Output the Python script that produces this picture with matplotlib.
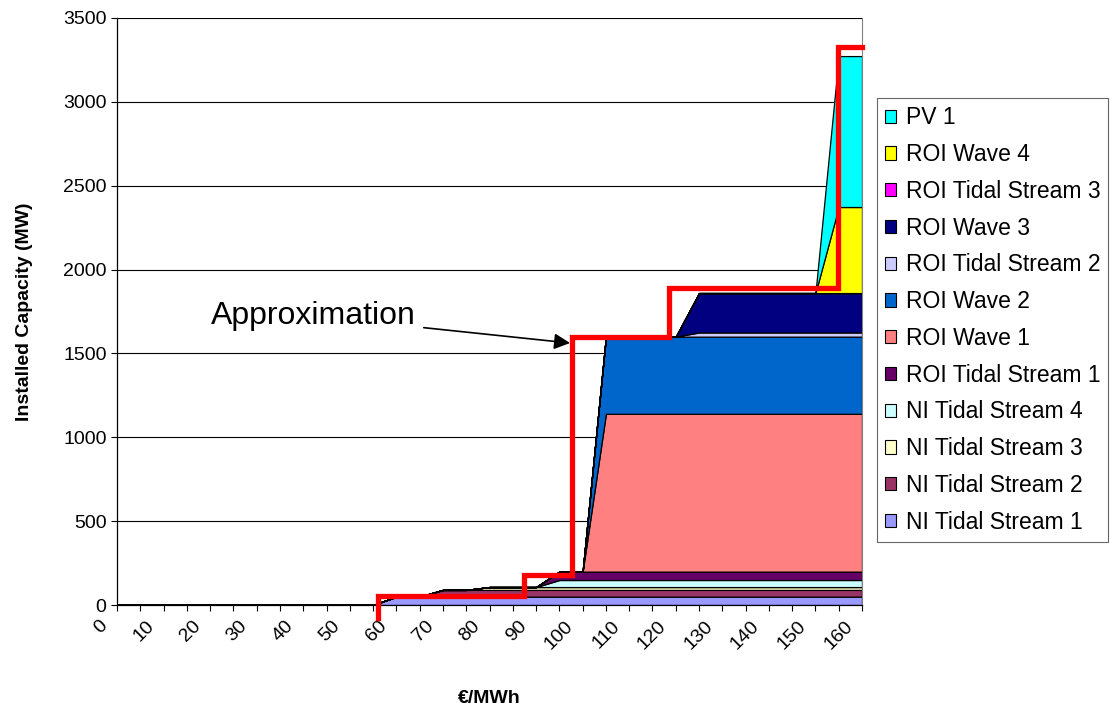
import matplotlib
matplotlib.use("Agg")
import matplotlib.pyplot as plt
import matplotlib.transforms as mtransforms
from matplotlib.patches import Rectangle
import numpy as np

plt.rcParams['font.family'] = ['Liberation Sans', 'DejaVu Sans']

# price categories, EUR/MWh
price = [0, 5, 10, 15, 20, 25, 30, 35, 40, 45, 50, 55, 60, 65, 70, 75, 80,
         85, 90, 95, 100, 105, 110, 115, 120, 125, 130, 135, 140, 145, 150, 155, 160]

# installed capacity (MW) available at each price
ni_tidal_1  = [0]*12 + [50]*21
ni_tidal_2  = [0]*14 + [40]*19
ni_tidal_3  = [0]*16 + [17]*17
ni_tidal_4  = [0]*19 + [42]*14
roi_tidal_1 = [0]*19 + [50]*14
roi_wave_1  = [0]*21 + [941]*12
roi_wave_2  = [0]*21 + [460]*12
roi_tidal_2 = [0]*25 + [25]*8
roi_wave_3  = [0]*25 + [235]*8
roi_tidal_3 = [0]*33
roi_wave_4  = [0]*31 + [513]*2
pv_1        = [0]*31 + [900]*2

names = ["NI Tidal Stream 1", "NI Tidal Stream 2", "NI Tidal Stream 3",
         "NI Tidal Stream 4", "ROI Tidal Stream 1", "ROI Wave 1", "ROI Wave 2",
         "ROI Tidal Stream 2", "ROI Wave 3", "ROI Tidal Stream 3",
         "ROI Wave 4", "PV 1"]
colors = ["#9999FF", "#993366", "#FFFFCC", "#CCFFFF", "#660066", "#FF8080",
          "#0066CC", "#CCCCFF", "#000080", "#FF00FF", "#FFFF00", "#00FFFF"]
series = [ni_tidal_1, ni_tidal_2, ni_tidal_3, ni_tidal_4, roi_tidal_1,
          roi_wave_1, roi_wave_2, roi_tidal_2, roi_wave_3, roi_tidal_3,
          roi_wave_4, pv_1]

# step approximation of the supply curve
approx_x = [56, 56, 87.5, 87.5, 97.8, 97.8, 118.5, 118.5, 154.8, 154.8, 160]
approx_y = [-75, 55, 55, 180, 180, 1600, 1600, 1890, 1890, 3330, 3330]

fig = plt.figure(figsize=(11.1, 7.13), dpi=100)
ax = fig.add_axes([117/1110, 1 - 605/713, 745/1110, 587/713])

ax.stackplot(price, *series, colors=colors, edgecolor="black",
             linewidth=0.9, zorder=2)
ax.plot(approx_x, approx_y, color="#FF0000", lw=3.8, zorder=5,
        clip_on=False, solid_joinstyle="miter")

ax.set_xlim(0, 160)
ax.set_ylim(0, 3500)
ax.set_yticks(np.arange(0, 3501, 500))
ax.set_xticks(np.arange(0, 161, 10))
ax.set_xticks(np.arange(5, 160, 10), minor=True)
ax.yaxis.grid(True, color="black", lw=0.8, zorder=0)
ax.set_axisbelow(True)

ax.tick_params(axis="both", which="both", direction="out", length=4,
               width=0.8, labelsize=14, colors="black")
ax.tick_params(axis="x", pad=5)
# rotated price labels, nudged a little left of their ticks
shift = mtransforms.ScaledTranslation(-6/100, 0, fig.dpi_scale_trans)
for lab in ax.get_xticklabels():
    lab.set_rotation(45)
    lab.set_ha("right")
    lab.set_va("top")
    lab.set_transform(lab.get_transform() + shift)

ax.spines["top"].set_visible(False)
ax.spines["right"].set_color("#808080")
ax.spines["left"].set_linewidth(0.9)
ax.spines["bottom"].set_linewidth(0.9)

ax.set_ylabel("Installed Capacity (MW)", fontsize=14, fontweight="bold",
              labelpad=22)
ax.set_xlabel("€/MWh", fontsize=14, fontweight="bold", labelpad=27)

ax.annotate("Approximation", xy=(97.3, 1562), xytext=(42.1, 1723),
            fontsize=23, ha="center", va="center",
            arrowprops=dict(arrowstyle="-|>", color="black", lw=1.2,
                            mutation_scale=24, shrinkA=4, shrinkB=0))

handles = [Rectangle((0, 0), 1, 1, facecolor=c, edgecolor="black", lw=0.8)
           for c in colors]
leg = fig.legend(handles[::-1], names[::-1], loc="center left",
                 bbox_to_anchor=(877/1110, 1 - 320/713), fontsize=16.5,
                 frameon=True, fancybox=False, edgecolor="#404040",
                 handlelength=0.5, handleheight=0.5, handletextpad=0.4,
                 labelspacing=0.6, borderpad=0.35, borderaxespad=0)
leg.get_frame().set_linewidth(0.8)

fig.savefig("out.png", dpi=100)
